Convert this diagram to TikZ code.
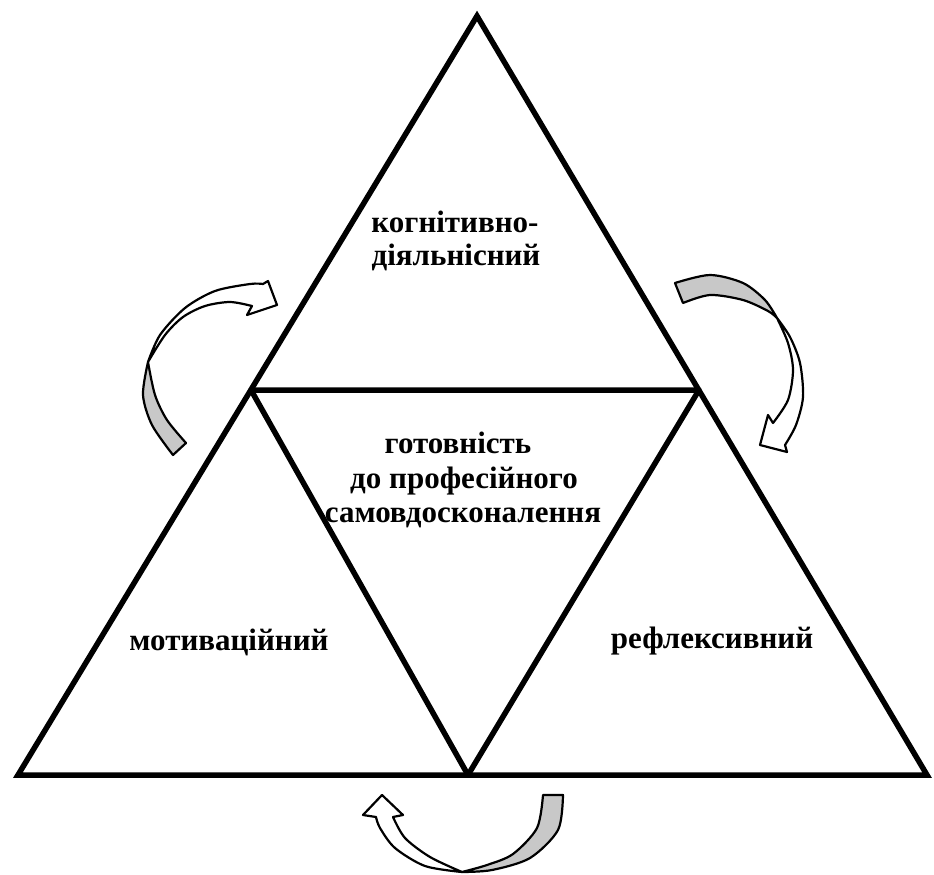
\documentclass[tikz,border=0pt]{standalone}
\usepackage{fontspec}
\setmainfont{Liberation Serif}
\definecolor{arrowgray}{RGB}{200,200,200}
\begin{document}
\begin{tikzpicture}[x=1pt,y=-1pt,
  tri/.style={line width=5.5pt, line join=miter},
  innertri/.style={line width=5.5pt, line join=round},
  arr/.style={draw=black, line width=2.2pt, line join=round},
  lbl/.style={font=\fontsize{31}{35}\selectfont\bfseries, inner sep=0pt, anchor=base}]
\useasboundingbox (0,0) rectangle (934,875);
% vertices
\coordinate (A) at (477,16);
\coordinate (BL) at (18,775);
\coordinate (BR) at (927,775);
\coordinate (IL) at (251,390);
\coordinate (IR) at (699,390);
\coordinate (IB) at (468,775);
\draw[tri] (A) -- (BL) -- (BR) -- cycle;
\draw[innertri] (IL) -- (IR) -- (IB) -- cycle;
% left arrow
\filldraw[arr, fill=arrowgray] plot[smooth] coordinates {(173,455) (152,425) (143,395) (148,362)}
  -- plot[smooth] coordinates {(148,362) (155,395) (167,420) (186,443)} -- cycle;
\filldraw[arr, fill=white] plot[smooth] coordinates {(148,362) (160,335) (185,308) (215,291) (250,284) (263,284)}
  -- (268,281) -- (277,305) -- (247,315) -- (252,306)
  -- plot[smooth] coordinates {(252,306) (230,302) (205,306) (183,317) (165,335) (148,362)} -- cycle;
% right arrow
\filldraw[arr, fill=arrowgray] plot[smooth] coordinates {(675,283) (710,275) (743,283) (765,300) (777,318)}
  -- plot[smooth] coordinates {(777,318) (768,311) (743,300) (710,295) (683,303)} -- cycle;
\filldraw[arr, fill=white] plot[smooth] coordinates {(777,318) (790,337) (800,363) (803,397) (796,425) (785,445)}
  -- (787,452) -- (760,445) -- (768,415) -- (773,423)
  -- plot[smooth] coordinates {(773,423) (788,400) (793,370) (788,343) (777,318)} -- cycle;
% bottom arrow
\filldraw[arr, fill=arrowgray] plot[smooth] coordinates {(563,795) (558,830) (530,858) (492,870) (462,872)}
  -- plot[smooth] coordinates {(462,872) (487,865) (513,854) (537,828) (543,795)} -- cycle;
\filldraw[arr, fill=white] plot[smooth] coordinates {(462,872) (425,866) (395,848) (380,828) (376,817)}
  -- (363,815) -- (382,795) -- (403,815) -- (393,817)
  -- plot[smooth] coordinates {(393,817) (405,838) (430,857) (462,872)} -- cycle;
% labels
\node[lbl] (k1) at (455,232) {когнітивно-};
\node[lbl] (k2) at (456,265) {діяльнісний};
\node[lbl] (g1) at (458,453) {готовність};
\node[lbl] (g2) at (464,488) {до професійного};
\node[lbl] (g3) at (463,522) {самовдосконалення};
\node[lbl] (m) at (229,650) {мотиваційний};
\node[lbl] (r) at (712,648) {рефлексивний};
\end{tikzpicture}
\end{document}
